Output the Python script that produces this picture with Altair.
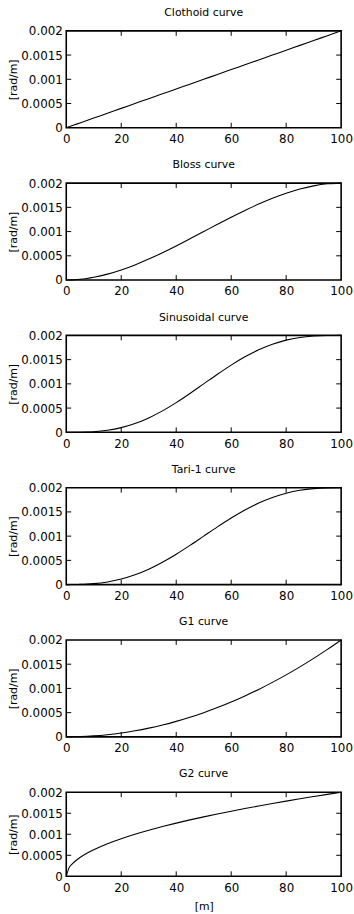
import altair as alt
import pandas as pd

# distance along the transition curve [m]
x_m = [0, 1, 2, 3, 5, 7.5, 10, 15, 20, 25, 30, 35, 40, 45, 50,
       55, 60, 65, 70, 75, 80, 85, 90, 95, 100]

# curvature [rad/m]
clothoid = [0, 0.00002, 0.00004, 0.00006, 0.0001, 0.00015, 0.0002, 0.0003, 0.0004,
            0.0005, 0.0006, 0.0007, 0.0008, 0.0009, 0.001, 0.0011, 0.0012, 0.0013,
            0.0014, 0.0015, 0.0016, 0.0017, 0.0018, 0.0019, 0.002]
bloss = [0, 0.0000006, 0.0000024, 0.0000053, 0.0000145, 0.0000321, 0.000056, 0.0001215,
         0.000208, 0.0003125, 0.000432, 0.0005635, 0.000704, 0.0008505, 0.001,
         0.0011495, 0.001296, 0.0014365, 0.001568, 0.0016875, 0.001792, 0.0018785,
         0.001944, 0.0019855, 0.002]
sinusoidal = [0, 0.00000001, 0.0000001, 0.00000036, 0.0000016, 0.0000055, 0.0000129,
              0.0000425, 0.0000973, 0.0001817, 0.0002973, 0.0004425, 0.0006129,
              0.0008016, 0.001, 0.0011984, 0.0013871, 0.0015575, 0.0017027, 0.0018183,
              0.0019027, 0.0019575, 0.0019871, 0.0019984, 0.002]
tari1 = [0, 0.0000001, 0.00000045, 0.0000011, 0.0000036, 0.0000095, 0.0000194,
         0.0000543, 0.0001139, 0.0002013, 0.0003175, 0.0004606, 0.0006266, 0.000809,
         0.001, 0.001191, 0.0013734, 0.0015394, 0.0016825, 0.0017987, 0.0018861,
         0.0019457, 0.0019806, 0.0019964, 0.002]
g1 = [0, 0.0000002, 0.0000008, 0.0000018, 0.000005, 0.00001125, 0.00002, 0.000045,
      0.00008, 0.000125, 0.00018, 0.000245, 0.00032, 0.000405, 0.0005, 0.000605,
      0.00072, 0.000845, 0.00098, 0.001125, 0.00128, 0.001445, 0.00162, 0.001805, 0.002]
g2 = [0, 0.0002, 0.000283, 0.000346, 0.000447, 0.000548, 0.000632, 0.000775, 0.000894,
      0.001, 0.001095, 0.001183, 0.001265, 0.001342, 0.001414, 0.001483, 0.001549,
      0.001612, 0.001673, 0.001732, 0.001789, 0.001844, 0.001897, 0.001949, 0.002]

titles = ["Clothoid curve", "Bloss curve", "Sinusoidal curve", "Tari-1 curve",
          "G1 curve", "G2 curve"]
series = [clothoid, bloss, sinusoidal, tari1, g1, g2]

x_label_values = [0, 20, 40, 60, 80, 100]
y_label_values = [0, 0.0005, 0.001, 0.0015, 0.002]
x_tick_values = [20, 40, 60, 80]
y_tick_values = [0.0005, 0.001, 0.0015]

FONT = "DejaVu Sans"
W = 278
TICK = 5


def panel(title, values, h, last):
    df = pd.DataFrame({"x": x_m, "k": values})
    xs = alt.Scale(domain=[0, 100], nice=False, zero=False)
    ys = alt.Scale(domain=[0, 0.002], nice=False)
    x_axis = alt.Axis(values=x_label_values, domain=False, ticks=False, grid=False,
                      labelFont=FONT, labelFontSize=12, labelColor="black",
                      labelPadding=6, labelFlush=False,
                      title="[m]" if last else None,
                      titleFont=FONT, titleFontSize=11, titleFontWeight="normal",
                      titleColor="black", titleY=31, titleBaseline="middle")
    y_axis = alt.Axis(values=y_label_values, format=".4~f", domain=False, ticks=False,
                      grid=False, labelFont=FONT, labelFontSize=12, labelColor="black",
                      labelPadding=4, labelFlush=False, title="[rad/m]",
                      titleFont=FONT, titleFontSize=11, titleFontWeight="normal",
                      titleColor="black", titleAngle=270, titleAlign="center",
                      titleBaseline="middle", titleX=-53, titleY=h / 2)
    line = alt.Chart(df).mark_line(color="black", strokeWidth=1.1,
                                   interpolate="monotone").encode(
        x=alt.X("x:Q", scale=xs, axis=x_axis),
        y=alt.Y("k:Q", scale=ys, axis=y_axis),
    )
    tx = pd.DataFrame({"x": x_tick_values})
    ty = pd.DataFrame({"k": y_tick_values})
    rule = dict(color="black", strokeWidth=1)
    bottom = alt.Chart(tx).mark_rule(**rule).encode(
        x=alt.X("x:Q", scale=xs, axis=x_axis), y=alt.value(h), y2=alt.value(h - TICK))
    top = alt.Chart(tx).mark_rule(**rule).encode(
        x=alt.X("x:Q", scale=xs, axis=x_axis), y=alt.value(0), y2=alt.value(TICK))
    left = alt.Chart(ty).mark_rule(**rule).encode(
        y=alt.Y("k:Q", scale=ys, axis=y_axis), x=alt.value(0), x2=alt.value(TICK))
    right = alt.Chart(ty).mark_rule(**rule).encode(
        y=alt.Y("k:Q", scale=ys, axis=y_axis), x=alt.value(W), x2=alt.value(W - TICK))
    return alt.layer(line, bottom, top, left, right).properties(
        width=W, height=h,
        title=alt.TitleParams(title, font=FONT, fontSize=11, fontWeight="normal",
                              color="black", anchor="middle", baseline="alphabetic",
                              offset=-2),
    )


panels = []
for i, (t, v) in enumerate(zip(titles, series)):
    last = i == len(titles) - 1
    panels.append(panel(t, v, 85 if last else 98, last))

chart = alt.vconcat(*panels, spacing=13).properties(
    padding={"left": 7, "top": 1, "right": 0, "bottom": 2},
    background="white",
).configure_view(stroke="black", strokeWidth=1.6)

chart.save("out.html", embed_options={"renderer": "svg", "actions": False})
